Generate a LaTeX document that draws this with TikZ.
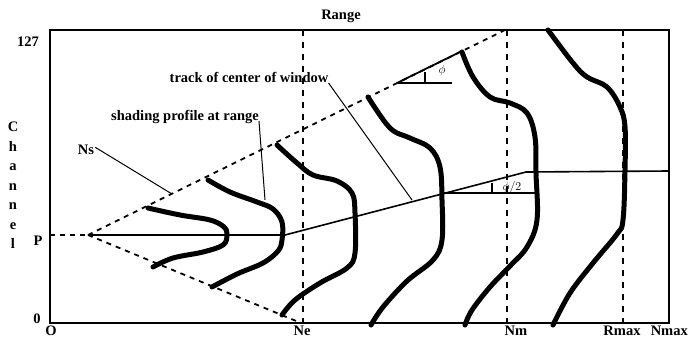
\documentclass[tikz,border=0pt]{standalone}
\usepackage{fontspec}
\setmainfont{Liberation Serif}
\begin{document}
\begin{tikzpicture}[x=1pt,y=-1pt,
  lbl/.style={font=\fontsize{14.5}{19.5}\selectfont\bfseries, inner sep=0pt},
  small/.style={font=\fontsize{12}{13}\selectfont, inner sep=0pt},
  frame/.style={line width=2pt},
  prof/.style={line width=5pt, line cap=round, line join=round},
  dsh/.style={line width=1.8pt, dash pattern=on 5pt off 5pt},
  vdsh/.style={line width=1.8pt, dash pattern=on 6pt off 6pt},
  track/.style={line width=1.6pt},
  lead/.style={line width=1pt},
  ang/.style={line width=1.8pt}]
\useasboundingbox (0,0) rectangle (688,339);
\fill[white] (0,0) rectangle (688,339);

% frame
\draw[frame] (50,30) -- (669,30) -- (669,323) -- (50,323);
\draw[line width=2.8pt] (50,29) -- (50,324);

% labels on axes
\node[lbl, anchor=base] (title) at (341,20) {Range};
\node[lbl, anchor=base] (l127) at (28,47) {127};
\node[lbl, anchor=base] (l0) at (37,323) {0};
\node[lbl, anchor=base] (lP) at (38,245) {P};
\node[lbl, anchor=north, align=center] (ylab) at (13,122) {C\\h\\a\\n\\n\\e\\l};
\node[lbl, anchor=north] (lO) at (51,326) {O};
\node[lbl, anchor=north] (lNe) at (302,326) {Ne};
\node[lbl, anchor=north] (lNm) at (516,326) {Nm};
\node[lbl, anchor=north] (lRmax) at (622,326) {Rmax};
\node[lbl, anchor=north east] (lNmax) at (688,326) {Nmax};

% coordinates
\coordinate (pL) at (50,235);
\coordinate (A) at (88,235);
\coordinate (topEnd) at (505,30);
\coordinate (lowEnd) at (301,323);
\coordinate (phiV) at (397,83);
\coordinate (phiE) at (462,51);
\coordinate (bend) at (285,235);
\coordinate (trk) at (526,172);
\coordinate (trR) at (669,171);

% vertical dashed lines
\draw[vdsh] (303,30) -- (303,323);
\draw[vdsh] (507,30) -- (507,323);
\draw[vdsh] (623,30) -- (623,323);

% wedge
\draw[dsh] (pL) -- (A);
\draw[dsh] (A) -- (topEnd);
\draw[dsh] (A) -- (lowEnd);

% track of centre
\draw[track] (A) -- (bend) -- (trk) -- (trR);

% phi construction
\draw[ang] (phiV) -- (phiE);
\draw[ang] (phiV) -- (452,83);
\draw[line width=1.2pt] (425,72) -- (425,83);
\node[small] (lphi) at (442,71) {$\phi$};

% phi/2 construction
\draw[ang] (443,193) -- (535,193);
\draw[line width=1.2pt] (492,183) -- (492,193);
\node[small] (lphi2) at (512,188) {$\phi/2$};

% shading profiles
\draw[prof] plot[smooth, tension=0.6] coordinates {(148,208) (180,215) (210,220) (224,227) (227,235) (223,245) (203,252) (173,258) (153,267)};
\draw[prof] plot[smooth, tension=0.6] coordinates {(208,180) (230,192) (257,202) (273,209) (282,222) (282,240) (278,251) (263,263) (237,274) (212,287)};
\draw[prof] plot[smooth, tension=0.6] coordinates {(277,145) (297,163) (313,175) (337,181) (352,193) (355,213) (355,253) (347,268) (320,283) (295,300) (282,315)};
\draw[prof] plot[smooth, tension=0.6] coordinates {(368,97) (390,128) (410,138) (430,148) (440,167) (442,200) (442,240) (433,260) (407,281) (383,307) (371,325)};
\draw[prof] plot[smooth, tension=0.6] coordinates {(462,52) (473,77) (490,97) (510,103) (527,113) (535,137) (536,173) (537,220) (527,247) (510,266) (490,287) (472,310) (465,325)};
\draw[prof] plot[smooth, tension=0.6] coordinates {(548,30) (573,63) (587,77) (607,87) (620,107) (625,127) (625,170) (623,220) (617,234) (593,263) (570,293) (553,325)};

% annotation labels and leaders
\node[lbl, anchor=base] (lNs) at (86,155) {Ns};
\coordinate (nsEnd) at (172,194);
\draw[lead] (lNs.east) ++(1,-3) -- (nsEnd);

\node[lbl, anchor=base] (lShade) at (185,121) {shading profile at range};
\coordinate (shEnd) at (265,200);
\draw[lead] (lShade.base east) -- (shEnd);

\node[lbl, anchor=base] (lTrack) at (249,83) {track of center of window};
\coordinate (tkEnd) at (412,200);
\draw[lead] (lTrack.base east) -- (tkEnd);
\end{tikzpicture}
\end{document}
